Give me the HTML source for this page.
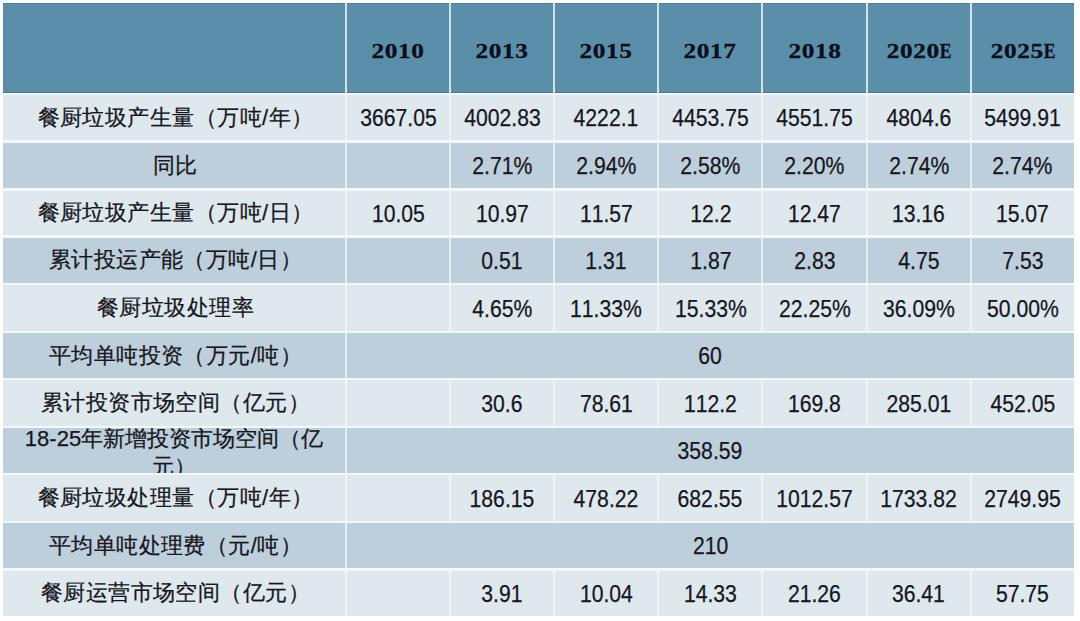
<!DOCTYPE html>
<html lang="zh">
<head>
<meta charset="utf-8">
<title>table</title>
<style>
html,body{margin:0;padding:0;background:#fff;}
body{width:1080px;height:621px;overflow:hidden;position:relative;font-family:"Liberation Sans",sans-serif;}
.c{position:absolute;box-sizing:border-box;display:flex;align-items:center;justify-content:center;
   font-size:22px;line-height:28px;color:#16161e;-webkit-text-stroke:0.25px #16161e;white-space:nowrap;overflow:hidden;text-align:center;}
.h{background:#5b8fa9;font-family:"Liberation Serif",serif;font-weight:bold;font-size:22px;color:#0a0e1e;padding-top:5px;-webkit-text-stroke:0.3px #0a0e1e;box-shadow:inset 0 1px 0 rgba(30,60,85,0.18),inset 0 -1px 0 rgba(30,60,85,0.25);}
.h span{display:inline-block;transform:scaleX(1.15);letter-spacing:0.5px;}
.h b{display:inline-block;transform:scaleX(0.7);transform-origin:0 50%;margin-right:-4.5px;letter-spacing:0;}
.s{position:absolute;}
.sh{background:#cfe2ee;}
.sl{background:#eef4f8;}
.sd{background:#e2edf4;}
.l{background:#dfe8ed;}
.d{background:#bdcfdb;}
.n{padding-top:1px;font-kerning:none;}
.n span{display:inline-block;font-size:23.5px;transform:scaleX(0.9);}
.t{padding-left:3px;}
.t span{display:inline-block;font-size:22px;letter-spacing:0.45px;}
.w{align-items:flex-start;}
.w span{display:block;margin-top:-2.7px;}
</style>
</head>
<body>
<div class="s" style="left:3px;top:3px;width:1070.5px;height:613.1px;background:#f1f7fa"></div>
<div class="s sh" style="left:3px;top:3px;width:1070.5px;height:90.1px"></div>
<div class="c h" style="left:3px;top:3px;width:342px;height:90.1px"><span></span></div>
<div class="c h" style="left:347px;top:3px;width:102.1px;height:90.1px"><span>2010</span></div>
<div class="c h" style="left:451.1px;top:3px;width:102.2px;height:90.1px"><span>2013</span></div>
<div class="c h" style="left:555.3px;top:3px;width:102.1px;height:90.1px"><span>2015</span></div>
<div class="c h" style="left:659.4px;top:3px;width:102px;height:90.1px"><span>2017</span></div>
<div class="c h" style="left:763.4px;top:3px;width:102.3px;height:90.1px"><span>2018</span></div>
<div class="c h" style="left:867.7px;top:3px;width:102.3px;height:90.1px"><span>2020<b>E</b></span></div>
<div class="c h" style="left:972px;top:3px;width:101.5px;height:90.1px"><span>2025<b>E</b></span></div>
<div class="s sl" style="left:3px;top:95.3px;width:1070.5px;height:45.2px"></div>
<div class="c l t" style="left:3px;top:95.3px;width:342px;height:45.2px"><span>餐厨垃圾产生量（万吨/年）</span></div>
<div class="c l n" style="left:347px;top:95.3px;width:102.1px;height:45.2px"><span>3667.05</span></div>
<div class="c l n" style="left:451.1px;top:95.3px;width:102.2px;height:45.2px"><span>4002.83</span></div>
<div class="c l n" style="left:555.3px;top:95.3px;width:102.1px;height:45.2px"><span>4222.1</span></div>
<div class="c l n" style="left:659.4px;top:95.3px;width:102px;height:45.2px"><span>4453.75</span></div>
<div class="c l n" style="left:763.4px;top:95.3px;width:102.3px;height:45.2px"><span>4551.75</span></div>
<div class="c l n" style="left:867.7px;top:95.3px;width:102.3px;height:45.2px"><span>4804.6</span></div>
<div class="c l n" style="left:972px;top:95.3px;width:101.5px;height:45.2px"><span>5499.91</span></div>
<div class="s sd" style="left:3px;top:142.7px;width:1070.5px;height:45.7px"></div>
<div class="c d t" style="left:3px;top:142.7px;width:342px;height:45.7px"><span>同比</span></div>
<div class="c d n" style="left:347px;top:142.7px;width:102.1px;height:45.7px"><span></span></div>
<div class="c d n" style="left:451.1px;top:142.7px;width:102.2px;height:45.7px"><span>2.71%</span></div>
<div class="c d n" style="left:555.3px;top:142.7px;width:102.1px;height:45.7px"><span>2.94%</span></div>
<div class="c d n" style="left:659.4px;top:142.7px;width:102px;height:45.7px"><span>2.58%</span></div>
<div class="c d n" style="left:763.4px;top:142.7px;width:102.3px;height:45.7px"><span>2.20%</span></div>
<div class="c d n" style="left:867.7px;top:142.7px;width:102.3px;height:45.7px"><span>2.74%</span></div>
<div class="c d n" style="left:972px;top:142.7px;width:101.5px;height:45.7px"><span>2.74%</span></div>
<div class="s sl" style="left:3px;top:190.6px;width:1070.5px;height:44.9px"></div>
<div class="c l t" style="left:3px;top:190.6px;width:342px;height:44.9px"><span>餐厨垃圾产生量（万吨/日）</span></div>
<div class="c l n" style="left:347px;top:190.6px;width:102.1px;height:44.9px"><span>10.05</span></div>
<div class="c l n" style="left:451.1px;top:190.6px;width:102.2px;height:44.9px"><span>10.97</span></div>
<div class="c l n" style="left:555.3px;top:190.6px;width:102.1px;height:44.9px"><span>11.57</span></div>
<div class="c l n" style="left:659.4px;top:190.6px;width:102px;height:44.9px"><span>12.2</span></div>
<div class="c l n" style="left:763.4px;top:190.6px;width:102.3px;height:44.9px"><span>12.47</span></div>
<div class="c l n" style="left:867.7px;top:190.6px;width:102.3px;height:44.9px"><span>13.16</span></div>
<div class="c l n" style="left:972px;top:190.6px;width:101.5px;height:44.9px"><span>15.07</span></div>
<div class="s sd" style="left:3px;top:237.7px;width:1070.5px;height:45.5px"></div>
<div class="c d t" style="left:3px;top:237.7px;width:342px;height:45.5px"><span>累计投运产能（万吨/日）</span></div>
<div class="c d n" style="left:347px;top:237.7px;width:102.1px;height:45.5px"><span></span></div>
<div class="c d n" style="left:451.1px;top:237.7px;width:102.2px;height:45.5px"><span>0.51</span></div>
<div class="c d n" style="left:555.3px;top:237.7px;width:102.1px;height:45.5px"><span>1.31</span></div>
<div class="c d n" style="left:659.4px;top:237.7px;width:102px;height:45.5px"><span>1.87</span></div>
<div class="c d n" style="left:763.4px;top:237.7px;width:102.3px;height:45.5px"><span>2.83</span></div>
<div class="c d n" style="left:867.7px;top:237.7px;width:102.3px;height:45.5px"><span>4.75</span></div>
<div class="c d n" style="left:972px;top:237.7px;width:101.5px;height:45.5px"><span>7.53</span></div>
<div class="s sl" style="left:3px;top:285.4px;width:1070.5px;height:45.3px"></div>
<div class="c l t" style="left:3px;top:285.4px;width:342px;height:45.3px"><span>餐厨垃圾处理率</span></div>
<div class="c l n" style="left:347px;top:285.4px;width:102.1px;height:45.3px"><span></span></div>
<div class="c l n" style="left:451.1px;top:285.4px;width:102.2px;height:45.3px"><span>4.65%</span></div>
<div class="c l n" style="left:555.3px;top:285.4px;width:102.1px;height:45.3px"><span>11.33%</span></div>
<div class="c l n" style="left:659.4px;top:285.4px;width:102px;height:45.3px"><span>15.33%</span></div>
<div class="c l n" style="left:763.4px;top:285.4px;width:102.3px;height:45.3px"><span>22.25%</span></div>
<div class="c l n" style="left:867.7px;top:285.4px;width:102.3px;height:45.3px"><span>36.09%</span></div>
<div class="c l n" style="left:972px;top:285.4px;width:101.5px;height:45.3px"><span>50.00%</span></div>
<div class="s sd" style="left:3px;top:332.9px;width:1070.5px;height:45.3px"></div>
<div class="c d t" style="left:3px;top:332.9px;width:342px;height:45.3px"><span>平均单吨投资（万元/吨）</span></div>
<div class="c d n" style="left:347px;top:332.9px;width:726.5px;height:45.3px"><span>60</span></div>
<div class="s sl" style="left:3px;top:380.4px;width:1070.5px;height:45.4px"></div>
<div class="c l t" style="left:3px;top:380.4px;width:342px;height:45.4px"><span>累计投资市场空间（亿元）</span></div>
<div class="c l n" style="left:347px;top:380.4px;width:102.1px;height:45.4px"><span></span></div>
<div class="c l n" style="left:451.1px;top:380.4px;width:102.2px;height:45.4px"><span>30.6</span></div>
<div class="c l n" style="left:555.3px;top:380.4px;width:102.1px;height:45.4px"><span>78.61</span></div>
<div class="c l n" style="left:659.4px;top:380.4px;width:102px;height:45.4px"><span>112.2</span></div>
<div class="c l n" style="left:763.4px;top:380.4px;width:102.3px;height:45.4px"><span>169.8</span></div>
<div class="c l n" style="left:867.7px;top:380.4px;width:102.3px;height:45.4px"><span>285.01</span></div>
<div class="c l n" style="left:972px;top:380.4px;width:101.5px;height:45.4px"><span>452.05</span></div>
<div class="s sd" style="left:3px;top:428px;width:1070.5px;height:45.2px"></div>
<div class="c d w" style="left:3px;top:428px;width:342px;height:45.2px"><span>18-25年新增投资市场空间（亿<br>元）</span></div>
<div class="c d n" style="left:347px;top:428px;width:726.5px;height:45.2px"><span>358.59</span></div>
<div class="s sl" style="left:3px;top:475.4px;width:1070.5px;height:45.4px"></div>
<div class="c l t" style="left:3px;top:475.4px;width:342px;height:45.4px"><span>餐厨垃圾处理量（万吨/年）</span></div>
<div class="c l n" style="left:347px;top:475.4px;width:102.1px;height:45.4px"><span></span></div>
<div class="c l n" style="left:451.1px;top:475.4px;width:102.2px;height:45.4px"><span>186.15</span></div>
<div class="c l n" style="left:555.3px;top:475.4px;width:102.1px;height:45.4px"><span>478.22</span></div>
<div class="c l n" style="left:659.4px;top:475.4px;width:102px;height:45.4px"><span>682.55</span></div>
<div class="c l n" style="left:763.4px;top:475.4px;width:102.3px;height:45.4px"><span>1012.57</span></div>
<div class="c l n" style="left:867.7px;top:475.4px;width:102.3px;height:45.4px"><span>1733.82</span></div>
<div class="c l n" style="left:972px;top:475.4px;width:101.5px;height:45.4px"><span>2749.95</span></div>
<div class="s sd" style="left:3px;top:523px;width:1070.5px;height:45.4px"></div>
<div class="c d t" style="left:3px;top:523px;width:342px;height:45.4px"><span>平均单吨处理费（元/吨）</span></div>
<div class="c d n" style="left:347px;top:523px;width:726.5px;height:45.4px"><span>210</span></div>
<div class="s sl" style="left:3px;top:570.6px;width:1070.5px;height:45.5px"></div>
<div class="c l t" style="left:3px;top:570.6px;width:342px;height:45.5px"><span>餐厨运营市场空间（亿元）</span></div>
<div class="c l n" style="left:347px;top:570.6px;width:102.1px;height:45.5px"><span></span></div>
<div class="c l n" style="left:451.1px;top:570.6px;width:102.2px;height:45.5px"><span>3.91</span></div>
<div class="c l n" style="left:555.3px;top:570.6px;width:102.1px;height:45.5px"><span>10.04</span></div>
<div class="c l n" style="left:659.4px;top:570.6px;width:102px;height:45.5px"><span>14.33</span></div>
<div class="c l n" style="left:763.4px;top:570.6px;width:102.3px;height:45.5px"><span>21.26</span></div>
<div class="c l n" style="left:867.7px;top:570.6px;width:102.3px;height:45.5px"><span>36.41</span></div>
<div class="c l n" style="left:972px;top:570.6px;width:101.5px;height:45.5px"><span>57.75</span></div>
</body>
</html>
